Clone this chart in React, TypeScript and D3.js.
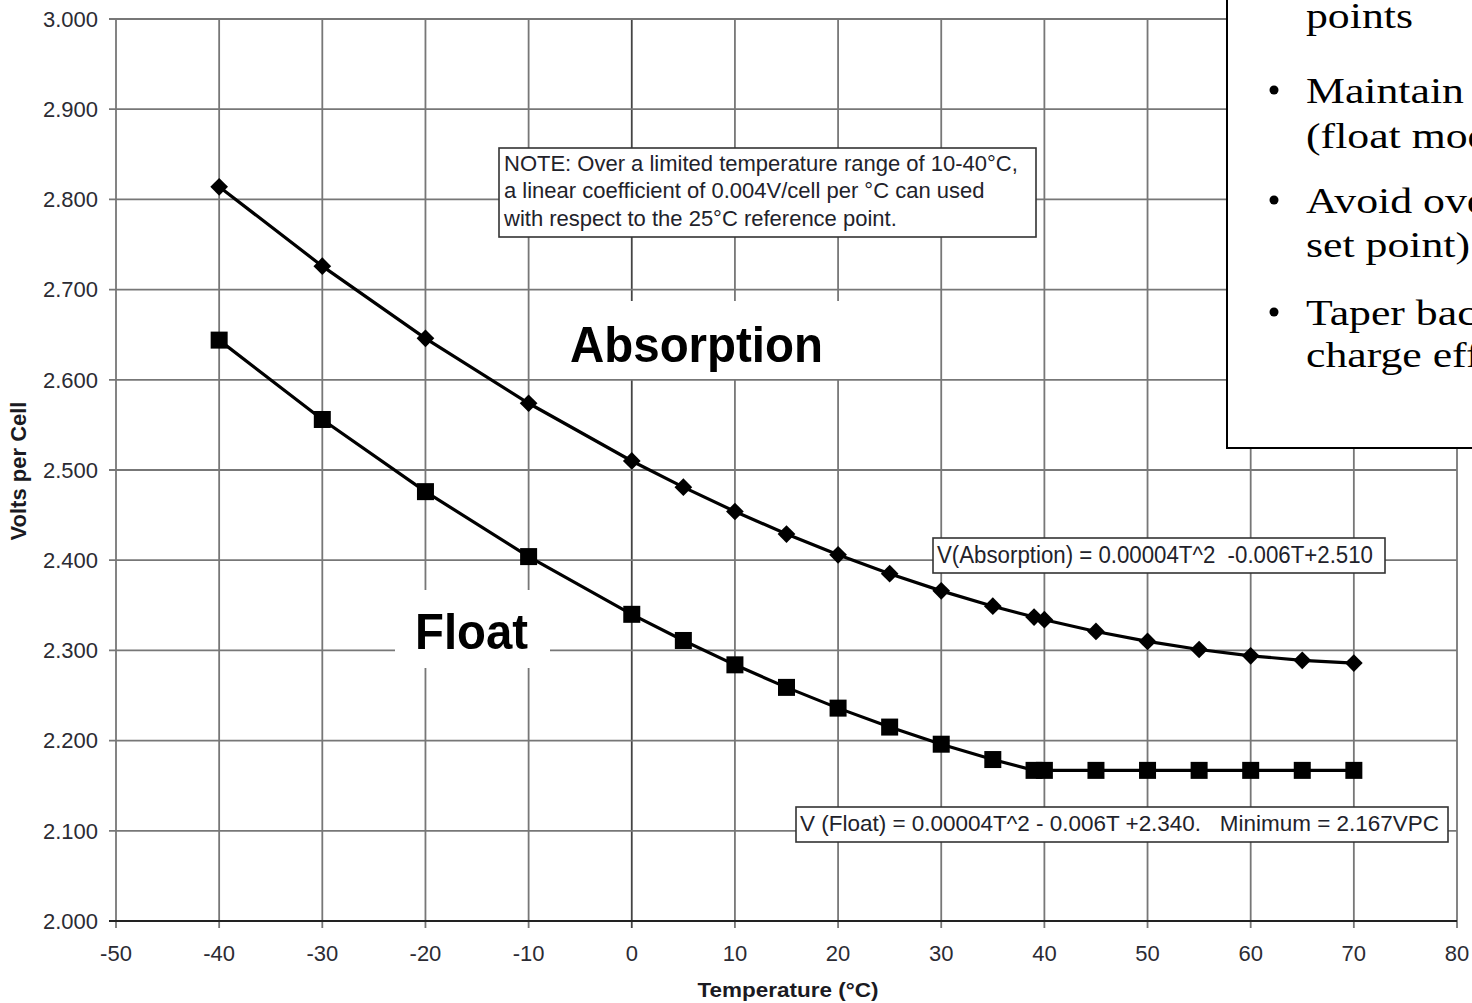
import React, { useEffect, useRef } from 'react';
import * as d3 from 'd3';

// temperatures (°C) where markers sit
const absTemps = [-40, -30, -20, -10, 0, 5, 10, 15, 20, 25, 30, 35, 39, 40, 45, 50, 55, 60, 65, 70];
const absVolts = [2.814, 2.726, 2.646, 2.574, 2.51, 2.481, 2.454, 2.429, 2.406, 2.385, 2.366, 2.349, 2.337, 2.334, 2.321, 2.31, 2.301, 2.294, 2.289, 2.286];
const floatTemps = [-40, -30, -20, -10, 0, 5, 10, 15, 20, 25, 30, 35, 39, 40, 45, 50, 55, 60, 65, 70];
const floatVolts = [2.644, 2.556, 2.476, 2.404, 2.34, 2.311, 2.284, 2.259, 2.236, 2.215, 2.196, 2.179, 2.167, 2.167, 2.167, 2.167, 2.167, 2.167, 2.167, 2.167];

const xTicks = [-50, -40, -30, -20, -10, 0, 10, 20, 30, 40, 50, 60, 70, 80];
const yTicks = [2.0, 2.1, 2.2, 2.3, 2.4, 2.5, 2.6, 2.7, 2.8, 2.9, 3.0];

const noteLines = [
    'NOTE: Over a limited temperature range of 10-40°C,',
    'a linear coefficient of 0.004V/cell per °C can used',
    'with respect to the 25°C reference point.',
];
const absEquation = 'V(Absorption) = 0.00004T^2  -0.006T+2.510';
const floatEquation = 'V (Float) = 0.00004T^2 - 0.006T +2.340.   Minimum = 2.167VPC';

// slide text box that overlaps the chart at top right
const slideLines = [
    { text: 'points', bullet: false, y: 28 },
    { text: 'Maintain battery', bullet: true, y: 103 },
    { text: '(float mode)', bullet: false, y: 148 },
    { text: 'Avoid overcharge', bullet: true, y: 213 },
    { text: 'set point)', bullet: false, y: 257 },
    { text: 'Taper back', bullet: true, y: 325 },
    { text: 'charge efficiency', bullet: false, y: 367 },
];

const SANS = 'Liberation Sans, Arial, sans-serif';
const SERIF = 'Liberation Serif, Times New Roman, serif';

const App = () => {
    const svgRef = useRef(null);

    useEffect(() => {
        const width = 1472;
        const height = 1003;
        const svg = d3.select(svgRef.current);
        svg.selectAll('*').remove();
        svg.attr('width', width).attr('height', height);

        const x = d3.scaleLinear().domain([-50, 80]).range([116, 1457]);
        const y = d3.scaleLinear().domain([2, 3]).range([921, 19]);

        svg.append('rect').attr('width', width).attr('height', height).attr('fill', '#fff');

        // grid
        const grid = svg.append('g');
        grid.selectAll('.vg').data(xTicks).enter().append('line')
            .attr('x1', d => x(d)).attr('x2', d => x(d))
            .attr('y1', y(3)).attr('y2', y(2) + 7)
            .attr('stroke', d => (d === 0 ? '#444' : '#777')).attr('stroke-width', 1.8);
        grid.selectAll('.hg').data(yTicks).enter().append('line')
            .attr('x1', x(-50) - 7).attr('x2', x(80))
            .attr('y1', d => y(d)).attr('y2', d => y(d))
            .attr('stroke', d => (d === 2 ? '#222' : '#777')).attr('stroke-width', 1.8);

        // tick labels
        svg.selectAll('.yl').data(yTicks).enter().append('text')
            .attr('x', 98).attr('y', d => y(d)).attr('dy', '0.35em')
            .attr('text-anchor', 'end').attr('font-family', SANS).attr('font-size', 22)
            .attr('fill', '#2b2b33').text(d => d3.format('.3f')(d));
        svg.selectAll('.xl').data(xTicks).enter().append('text')
            .attr('x', d => x(d)).attr('y', 953).attr('dy', '0.35em')
            .attr('text-anchor', 'middle').attr('font-family', SANS).attr('font-size', 22)
            .attr('fill', '#2b2b33').text(d => d);

        svg.append('text').attr('x', 788).attr('y', 990).attr('dy', '0.35em')
            .attr('text-anchor', 'middle').attr('font-family', SANS).attr('font-size', 21)
            .attr('font-weight', 'bold').attr('fill', '#1a1a22')
            .attr('textLength', 181).attr('lengthAdjust', 'spacingAndGlyphs').text('Temperature (°C)');
        svg.append('text').attr('transform', 'translate(18,471) rotate(-90)').attr('dy', '0.35em')
            .attr('text-anchor', 'middle').attr('font-family', SANS).attr('font-size', 22)
            .attr('font-weight', 'bold').attr('fill', '#1a1a22').text('Volts per Cell');

        // white backing for the big series labels
        svg.append('rect').attr('x', 547).attr('y', 301).attr('width', 303).attr('height', 78).attr('fill', '#fff');
        svg.append('rect').attr('x', 395).attr('y', 590).attr('width', 155).attr('height', 78).attr('fill', '#fff');

        // series
        const absData = absTemps.map((t, i) => ({ t, v: absVolts[i] }));
        const floatData = floatTemps.map((t, i) => ({ t, v: floatVolts[i] }));
        const line = d3.line().x(d => x(d.t)).y(d => y(d.v));

        svg.append('path').datum(absData).attr('d', line)
            .attr('fill', 'none').attr('stroke', '#000').attr('stroke-width', 3.2);
        svg.append('path').datum(floatData).attr('d', line)
            .attr('fill', 'none').attr('stroke', '#000').attr('stroke-width', 3.2);

        const diamond = d3.symbol().type(d3.symbolDiamond2).size(200);
        svg.selectAll('.dm').data(absData).enter().append('path')
            .attr('d', diamond)
            .attr('transform', d => `translate(${x(d.t)},${y(d.v)})`)
            .attr('fill', '#000');
        svg.selectAll('.sq').data(floatData).enter().append('rect')
            .attr('x', d => x(d.t) - 8.5).attr('y', d => y(d.v) - 8.5)
            .attr('width', 17).attr('height', 17).attr('fill', '#000');

        // big labels
        svg.append('text').attr('x', 570).attr('y', 362).attr('font-family', SANS)
            .attr('font-size', 50).attr('font-weight', 'bold').attr('fill', '#000')
            .attr('textLength', 253).attr('lengthAdjust', 'spacingAndGlyphs').text('Absorption');
        svg.append('text').attr('x', 415).attr('y', 649).attr('font-family', SANS)
            .attr('font-size', 50).attr('font-weight', 'bold').attr('fill', '#000')
            .attr('textLength', 113).attr('lengthAdjust', 'spacingAndGlyphs').text('Float');

        // note box
        svg.append('rect').attr('x', 499).attr('y', 148).attr('width', 537).attr('height', 89)
            .attr('fill', '#fff').attr('stroke', '#333').attr('stroke-width', 1.6);
        svg.selectAll('.nl').data(noteLines).enter().append('text')
            .attr('x', 504).attr('y', (d, i) => 163 + i * 27.5).attr('dy', '0.35em')
            .attr('font-family', SANS).attr('font-size', 22).attr('fill', '#22222a').text(d => d);

        // equation boxes
        svg.append('rect').attr('x', 933).attr('y', 538).attr('width', 452).attr('height', 35)
            .attr('fill', '#fff').attr('stroke', '#333').attr('stroke-width', 1.6);
        svg.append('text').attr('x', 937).attr('y', 555).attr('dy', '0.35em')
            .attr('font-family', SANS).attr('font-size', 23).attr('fill', '#22222a')
            .style('white-space', 'pre')
            .attr('textLength', 436).attr('lengthAdjust', 'spacingAndGlyphs').text(absEquation);

        svg.append('rect').attr('x', 796).attr('y', 807).attr('width', 652).attr('height', 35)
            .attr('fill', '#fff').attr('stroke', '#333').attr('stroke-width', 1.6);
        svg.append('text').attr('x', 800).attr('y', 823).attr('dy', '0.35em')
            .attr('font-family', SANS).attr('font-size', 22).attr('fill', '#22222a')
            .style('white-space', 'pre')
            .attr('textLength', 639).attr('lengthAdjust', 'spacingAndGlyphs').text(floatEquation);

        // slide text box on top right
        svg.append('rect').attr('x', 1227).attr('y', -10).attr('width', 400).attr('height', 458)
            .attr('fill', '#fff').attr('stroke', '#000').attr('stroke-width', 2);
        const slide = svg.append('g');
        slideLines.forEach(l => {
            if (l.bullet) {
                slide.append('circle').attr('cx', 1274).attr('cy', l.y - 13).attr('r', 4.5).attr('fill', '#000');
            }
            slide.append('text')
                .attr('transform', `translate(1306,${l.y}) scale(1.25,1)`)
                .attr('font-family', SERIF).attr('font-size', 35).attr('fill', '#000').text(l.text);
        });
    }, []);

    return (
        <svg ref={svgRef} style={{ position: 'absolute', left: 0, top: 0, display: 'block' }}></svg>
    );
};

export default App;
